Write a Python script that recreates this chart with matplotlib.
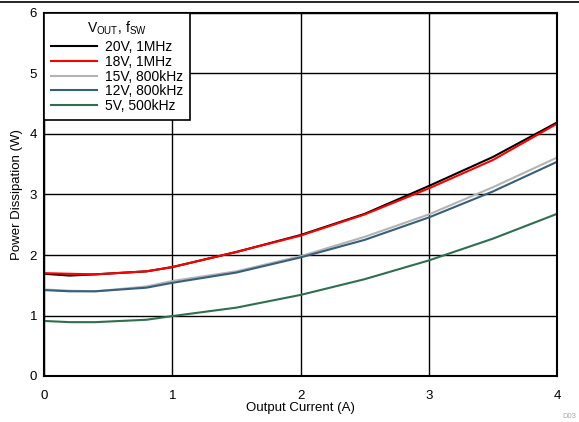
import numpy as np
import matplotlib.pyplot as plt

plt.rcParams['font.family'] = ['Liberation Sans', 'DejaVu Sans']
plt.rcParams['mathtext.fontset'] = 'custom'
plt.rcParams['mathtext.rm'] = 'Liberation Sans'

current = [0, 0.2, 0.4, 0.8, 1.0, 1.5, 2.0, 2.5, 3.0, 3.5, 4.0]
p_20v = [1.69, 1.66, 1.68, 1.73, 1.80, 2.05, 2.33, 2.68, 3.14, 3.62, 4.19]
p_18v = [1.70, 1.69, 1.68, 1.73, 1.80, 2.05, 2.32, 2.67, 3.10, 3.57, 4.17]
p_15v = [1.43, 1.41, 1.40, 1.48, 1.57, 1.73, 1.98, 2.30, 2.67, 3.12, 3.61]
p_12v = [1.42, 1.40, 1.40, 1.46, 1.54, 1.71, 1.96, 2.25, 2.62, 3.05, 3.54]
p_5v = [0.91, 0.89, 0.89, 0.93, 0.99, 1.13, 1.34, 1.60, 1.91, 2.27, 2.68]

labels = ["20V, 1MHz", "18V, 1MHz", "15V, 800kHz", "12V, 800kHz", "5V, 500kHz"]
colors = ["#000000", "#ff0000", "#b4b4b4", "#355f7d", "#2e6f4f"]

fig = plt.figure(figsize=(5.79, 4.22), dpi=100)
ax = fig.add_axes([44/579, 1 - 376/422, (557-44)/579, (376-13)/422])

for y, lab, c in zip([p_20v, p_18v, p_15v, p_12v, p_5v], labels, colors):
    ax.plot(current, y, color=c, lw=1.5, label=lab)

ax.set_xlim(0, 4)
ax.set_ylim(0, 6)
ax.set_xticks(range(0, 5))
ax.set_yticks(range(0, 7))
ax.grid(True, color='black', lw=1)
ax.tick_params(length=0, labelsize=9.5)
ax.tick_params(axis='x', pad=10)
ax.tick_params(axis='y', pad=5)
for s in ax.spines.values():
    s.set_linewidth(1.5)
ax.set_xlabel("Output Current (A)", fontsize=9.5, labelpad=0)
ax.set_ylabel("Power Dissipation (W)", fontsize=9.5, labelpad=5)

leg = ax.legend(loc='upper left', borderaxespad=0, fontsize=10,
                title=r"V$_{\mathrm{OUT}}$, f$_{\mathrm{SW}}$",
                title_fontsize=10, handlelength=3.3, handletextpad=0.6,
                labelspacing=0.05, fancybox=False, framealpha=1,
                edgecolor='black', borderpad=0.5)
leg.get_frame().set_linewidth(1.2)
leg._legend_box.sep = 2

fig.add_artist(plt.Line2D([0, 1], [1 - 1.5/422, 1 - 1.5/422], color='black', lw=1.2))
fig.text(576/579, 1 - 417/422, "D03", fontsize=5.5, color='#aaaaaa', ha='right', va='center')

fig.savefig("out.png", dpi=100)
